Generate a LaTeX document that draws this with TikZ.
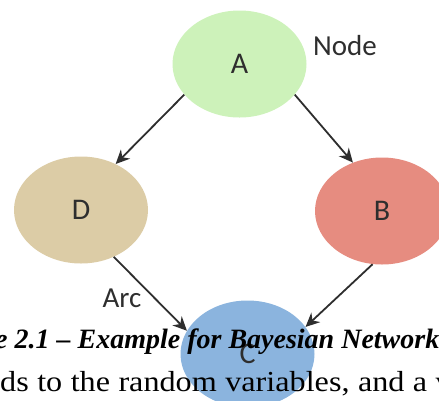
\documentclass[tikz,border=0pt]{standalone}
\usepackage{fontspec}
\setmainfont{Liberation Serif}
\newfontfamily\labelfont{Carlito}
\newfontfamily\bodyfont[FakeStretch=1.11, WordSpace=1.05]{Liberation Serif}
\usetikzlibrary{shapes.geometric,arrows.meta}
\definecolor{greenA}{HTML}{CDF2BA}
\definecolor{tanD}{HTML}{DCCCA6}
\definecolor{redB}{HTML}{E68C80}
\definecolor{blueC}{HTML}{8BB4DE}
\definecolor{inkgray}{HTML}{2E2E2E}
\begin{document}
\begin{tikzpicture} [x = 1pt, y = -1pt,
	bnode/.style = {ellipse, minimum width = 134pt, minimum height = 107pt, inner sep = 0pt, text = inkgray, font = \labelfont\fontsize{30}{34}\selectfont},
	arc/.style = {-{Stealth[length = 14pt, width = 13pt]}, line width = 1.8pt, draw = inkgray},
	tag/.style = {text = inkgray, font = \labelfont\fontsize{29}{33}\selectfont}]
	\useasboundingbox (0,0) rectangle (439,400);
	\clip (0,0) rectangle (439,400);
	% the four variables
	\node [bnode, fill = greenA] (A) at (239.5,64) {A};
	\node [bnode, fill = tanD] (D) at (81,210) {D};
	\node [bnode, fill = redB] (B) at (382,211) {B};
	\node [bnode, fill = blueC] (C) at (247.5,354) {C};
	% the arcs
	\draw [arc] (A.209) -- (D.53);
	\draw [arc] (A.331) -- (B.121);
	\draw [arc] (D.305) -- (C.159);
	\draw [arc] (B.260) -- (C.25);
	\node [tag] (nodetag) at (345,46) {Node};
	\node [tag] (arctag) at (122,298) {Arc};
	% page text over the picture
	\node [anchor = base west, inner sep = 0pt, font = \bfseries\itshape\fontsize{28}{34}\selectfont] (caption) at (-5,348) {e 2.1 – Example for Bayesian Network};
	\node [anchor = base west, inner sep = 0pt, font = \bodyfont\fontsize{29}{34}\selectfont] (bodytext) at (0,391) {ds to the random variables, and a va};
\end{tikzpicture}
\end{document}
